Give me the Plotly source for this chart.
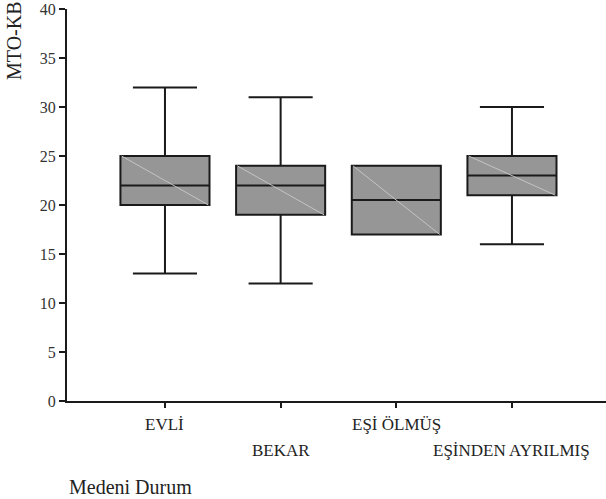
import plotly.graph_objects as go

categories = ["EVLİ", "BEKAR", "EŞİ ÖLMÜŞ", "EŞİNDEN AYRILMIŞ"]
lower_whisker = [13, 12, 17, 16]
q1_values = [20, 19, 17, 21]
median_values = [22, 22, 20.5, 23]
q3_values = [25, 24, 24, 25]
upper_whisker = [32, 31, 24, 30]
y_ticks = [0, 5, 10, 15, 20, 25, 30, 35, 40]
y_title = "MTO-KB"
x_title = "Medeni Durum"

positions = [i + 1 for i in range(len(categories))]
box_w = 0.77
FONT = "Liberation Serif"
INK = "#1a1a1a"

fig = go.Figure()
fig.add_trace(go.Box(
    x=positions, q1=q1_values, median=median_values, q3=q3_values,
    lowerfence=lower_whisker, upperfence=upper_whisker,
    width=box_w, whiskerwidth=0.72, boxpoints=False,
    fillcolor="#969696", line=dict(color=INK, width=2),
    showlegend=False, hoverinfo="skip",
))

# faint diagonal artefact inside each box
dx, dy = [], []
for p, a, b in zip(positions, q3_values, q1_values):
    dx += [p - box_w / 2 + 0.01, p + box_w / 2 - 0.01, None]
    dy += [a, b, None]
fig.add_trace(go.Scatter(x=dx, y=dy, mode="lines",
                         line=dict(color="#c4c4c4", width=1),
                         showlegend=False, hoverinfo="skip"))

annotations = []
for i, (p, c) in enumerate(zip(positions, categories)):
    annotations.append(dict(
        x=p, xref="x", y=0, yref="paper", yanchor="middle", xanchor="center",
        yshift=-23 if i % 2 == 0 else -49, showarrow=False, text=c,
        font=dict(family=FONT, size=17, color="#222"),
    ))
annotations.append(dict(
    x=0, xref="paper", xanchor="left", xshift=0, y=0, yref="paper",
    yanchor="middle", yshift=-86, showarrow=False, text=x_title,
    font=dict(family=FONT, size=20, color="#222"),
))
annotations.append(dict(
    x=0, xref="paper", xanchor="center", xshift=-53, y=1, yref="paper",
    yanchor="middle", yshift=-32, showarrow=False, text=y_title, textangle=-90,
    font=dict(family=FONT, size=20, color="#222"),
))

fig.update_layout(
    width=606, height=499,
    margin=dict(l=67, r=0, t=9, b=98),
    paper_bgcolor="white", plot_bgcolor="white",
    xaxis=dict(range=[0.153, 4.813], tickvals=positions, ticktext=[""] * len(positions),
               showticklabels=False, ticks="outside", ticklen=5, tickwidth=1.5,
               tickcolor=INK, showline=True, linecolor=INK, linewidth=2,
               showgrid=False, zeroline=False, fixedrange=True),
    yaxis=dict(range=[0, 40], tickvals=y_ticks, ticks="outside", ticklen=6,
               tickwidth=1.5, tickcolor=INK, showline=True, linecolor=INK,
               linewidth=2, showgrid=False, zeroline=False,
               tickfont=dict(family=FONT, size=16, color="#333")),
    annotations=annotations,
)

fig.write_html("out.html", config={"displayModeBar": False},
               post_script="document.body.style.margin='0';document.body.style.overflow='hidden';")
